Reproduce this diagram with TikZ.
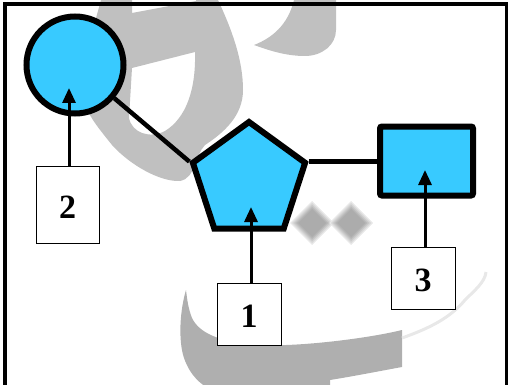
\documentclass[tikz,border=0pt]{standalone}
\usepackage{fontspec}
\setmainfont{Liberation Serif}
\usetikzlibrary{shapes.geometric,arrows.meta}
\definecolor{glyco}{RGB}{56,202,255}
\definecolor{wmlight}{RGB}{192,192,192}
\definecolor{wmdark}{RGB}{175,175,175}
\definecolor{wmfaint}{RGB}{232,232,232}

\begin{document}
\begin{tikzpicture}[x=1pt,y=-1pt,
  sugar/.style={draw=black, fill=glyco, line width=6pt, inner sep=0pt},
  bond/.style={line width=4.5pt},
  lbl/.style={draw=black, line width=0.9pt, fill=white, inner sep=0pt,
    font=\bfseries\fontsize{34}{40}\selectfont, text height=27pt},
  pointer/.style={line width=3pt, -{Triangle[width=13pt,length=15pt]}}]
\useasboundingbox (0,0) rectangle (508,385);

% grey calligraphic watermark behind the diagram
\begin{scope}
  \clip (0,0) rectangle (508,385);
  \fill[wmlight, even odd rule]
    (101,0) -- (132,0) -- (132,13) -- (196,1) -- (196,0) -- (218,0)
    .. controls (232,30) and (243,60) .. (243,90)
    .. controls (243,115) and (225,132) .. (205,145)
    .. controls (195,155) and (196,178) .. (180,181)
    .. controls (160,182) and (130,165) .. (112,145)
    .. controls (100,130) and (90,118) .. (85,105)
    -- (90,40) -- cycle
    (132,68) -- (195,52)
    .. controls (196,90) and (186,118) .. (165,131)
    .. controls (150,139) and (132,133) .. (129,118) -- cycle;
  \fill[wmlight]
    (294,0) -- (336,0) -- (336,30)
    .. controls (336,45) and (322,56) .. (305,56)
    .. controls (285,56) and (268,50) .. (254,45)
    .. controls (272,38) and (288,25) .. cycle;
  % the two soft dots, built up in layers
  \foreach \cx in {312,351} {
    \foreach \r/\g in {22/232,20/215,18/198,16/182,14/172} {
      \definecolor{dotshade}{RGB}{\g,\g,\g}
      \fill[dotshade] (\cx,223-\r) -- (\cx+\r,223) -- (\cx,223+\r) -- (\cx-\r,223) -- cycle;
    }
  }
  % lower swash
  \fill[wmdark]
    (186,290) .. controls (180,310) and (178,340) .. (184,358)
    .. controls (190,375) and (200,385) .. (215,392)
    -- (330,392) -- (330,380)
    .. controls (355,376) and (380,371) .. (402,367)
    -- (402,330)
    .. controls (370,338) and (300,347) .. (260,345)
    .. controls (225,343) and (200,335) .. (192,318)
    .. controls (188,308) and (187,298) .. cycle;
  \draw[wmfaint, line width=3pt]
    (402,338) .. controls (430,328) and (450,318) .. (465,300)
    .. controls (475,290) and (485,282) .. (486,272);
\end{scope}

% frame
\draw[line width=4pt] (5,386) -- (5,4.5) -- (508,4.5);
\draw[line width=2.6pt] (506.3,4.5) -- (506.3,386);

% residues
\node[sugar, circle, minimum size=97pt] (gal) at (75,65) {};
\node[sugar, regular polygon, regular polygon sides=5, minimum size=118pt] (core) at (249,181) {};
\node[sugar, rectangle, rounded corners=2pt, minimum width=93pt, minimum height=69pt] (sq) at (426.5,161) {};

% bonds
\draw[bond] (gal) -- (core.corner 2);
\draw[bond] (core.corner 5) -- (core.corner 5 -| sq.west);

% numbered labels
\node[lbl, minimum width=63pt, minimum height=77pt] (n2) at (67.5,204.5) {2};
\node[lbl, minimum width=64pt, minimum height=62pt] (n1) at (249,314) {1};
\node[lbl, minimum width=64pt, minimum height=62pt] (n3) at (423,278) {3};

\coordinate (p2) at (69,88);
\coordinate (p1) at (251,207);
\coordinate (p3) at (425,170);
\draw[pointer] (p2 |- n2.north) -- (p2);
\draw[pointer] (p1 |- n1.north) -- (p1);
\draw[pointer] (p3 |- n3.north) -- (p3);
\end{tikzpicture}
\end{document}
